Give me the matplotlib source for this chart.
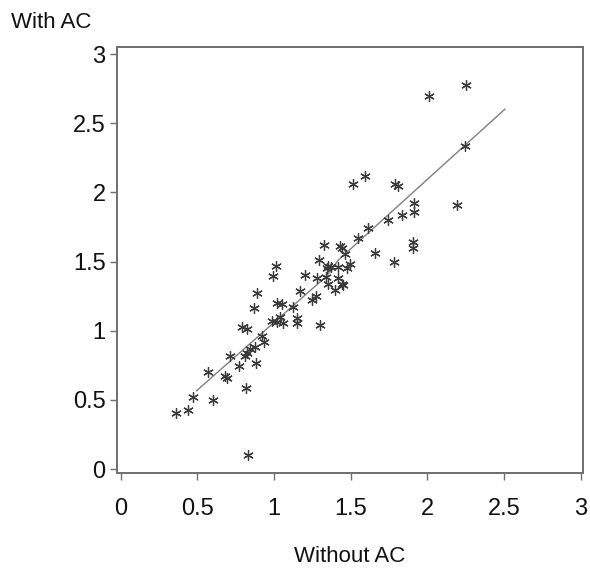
import matplotlib
matplotlib.use("Agg")
import matplotlib.pyplot as plt

plt.rcParams['font.family'] = ['Liberation Sans', 'DejaVu Sans']

# Paired measurements: without AC (x) vs with AC (y)
without_ac = [2.25, 2.01, 2.245, 1.59, 1.515, 1.79, 1.805, 2.19, 1.91, 1.91,
              1.835, 1.74, 1.61, 1.545, 1.905, 1.905, 1.655, 1.78, 1.325, 1.43,
              1.445, 1.46, 1.29, 1.012, 1.353, 1.371, 1.415, 1.495, 1.473, 1.343,
              0.995, 1.204, 1.278, 1.336, 1.419, 1.353, 1.441, 1.451, 1.397, 1.169,
              1.245, 1.273, 0.887, 0.867, 1.017, 1.050, 1.121, 1.299, 1.147, 1.151,
              1.038, 0.984, 1.060, 1.017, 0.789, 0.821, 0.923, 0.934, 0.875, 0.843,
              0.821, 0.810, 0.713, 0.882, 0.773, 0.567, 0.680, 0.691, 0.815, 0.473,
              0.600, 0.441, 0.360, 0.828]
with_ac = [2.78, 2.70, 2.335, 2.12, 2.06, 2.06, 2.05, 1.91, 1.925, 1.86,
           1.835, 1.80, 1.74, 1.67, 1.64, 1.60, 1.56, 1.50, 1.62, 1.61,
           1.60, 1.555, 1.51, 1.468, 1.470, 1.461, 1.461, 1.480, 1.451, 1.451,
           1.396, 1.403, 1.383, 1.390, 1.379, 1.336, 1.338, 1.330, 1.294, 1.289,
           1.222, 1.251, 1.270, 1.162, 1.203, 1.193, 1.174, 1.041, 1.090, 1.053,
           1.101, 1.072, 1.058, 1.065, 1.029, 1.010, 0.962, 0.920, 0.880, 0.865,
           0.836, 0.817, 0.817, 0.769, 0.747, 0.699, 0.672, 0.660, 0.586, 0.521,
           0.497, 0.427, 0.405, 0.101]

# Smoothed trend line
fit_x = [0.495, 1.0, 1.343, 1.419, 2.0, 2.505]
fit_y = [0.566, 1.06, 1.395, 1.511, 2.095, 2.602]

ticks = [0, 0.5, 1, 1.5, 2, 2.5, 3]
tick_labels = ['0', '0.5', '1', '1.5', '2', '2.5', '3']

fig = plt.figure(figsize=(5.9, 5.69), dpi=100)
ax = fig.add_axes([0.1978, 0.1682, 0.7908, 0.7498])

ax.plot(fit_x, fit_y, color='#808080', linewidth=1.0, zorder=2)
ax.plot(without_ac, with_ac, linestyle='none', marker=(6, 2, 0),
        markersize=7.5, markeredgewidth=0.9, color='#3a3a3a', zorder=3)

ax.set_xlim(-0.026, 3.016)
ax.set_ylim(-0.031, 3.054)
ax.set_xticks(ticks)
ax.set_xticklabels(tick_labels)
ax.set_yticks(ticks)
ax.set_yticklabels(tick_labels)

for s in ax.spines.values():
    s.set_color('#6e6e6e')
    s.set_linewidth(1.4)

ax.tick_params(axis='both', direction='out', length=5, width=1.0,
               color='#6e6e6e', labelsize=17, labelcolor='#111111')
ax.tick_params(axis='x', pad=13)
ax.tick_params(axis='y', pad=3)

fig.text(0.019, 0.960, 'With AC', fontsize=16, color='#111111',
         ha='left', va='center')
fig.text(0.593, 0.022, 'Without AC', fontsize=16, color='#111111',
         ha='center', va='center')

fig.savefig('out.png', dpi=100, facecolor='white')
